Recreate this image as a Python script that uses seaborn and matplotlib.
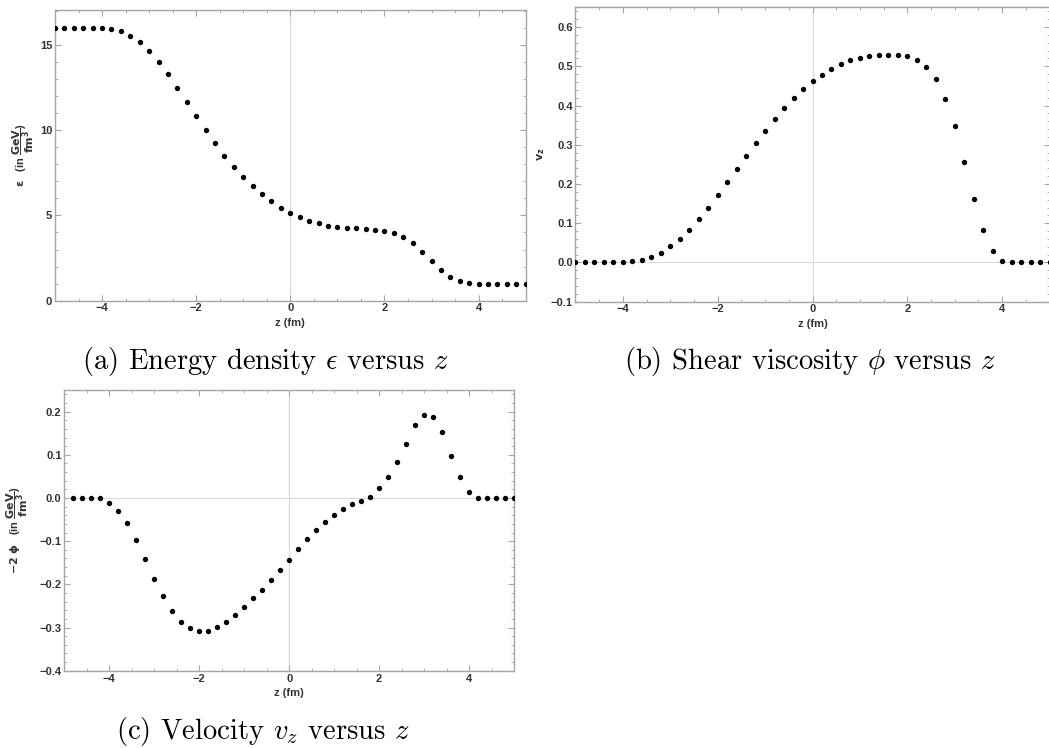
import numpy as np
import matplotlib
matplotlib.use("Agg")
import matplotlib.pyplot as plt
from matplotlib.ticker import MultipleLocator
import seaborn as sns

# Grid along the beam axis (fm)
z_a = [round(-5.0 + 0.2 * i, 1) for i in range(51)]
z_b = [round(-5.0 + 0.2 * i, 1) for i in range(51)]
z_c = [round(-4.8 + 0.2 * i, 1) for i in range(50)]

# Energy density epsilon (GeV/fm^3)
energy_density = [
    16.0, 16.0, 16.0, 16.0, 16.0, 16.0, 15.96, 15.8, 15.55, 15.18,
    14.67, 14.02, 13.27, 12.49, 11.63, 10.82, 10.0, 9.24, 8.51, 7.84,
    7.27, 6.73, 6.25, 5.82, 5.45, 5.14, 4.88, 4.67, 4.53, 4.41,
    4.31, 4.27, 4.25, 4.2, 4.16, 4.1, 3.98, 3.73, 3.37, 2.88,
    2.33, 1.82, 1.41, 1.16, 1.04, 0.98, 0.98, 0.98, 0.98, 0.98, 0.98,
]

# Velocity v_z
velocity = [
    0.0, 0.0, 0.0, 0.0, 0.0, 0.001, 0.003, 0.007, 0.014, 0.025,
    0.041, 0.059, 0.083, 0.110, 0.140, 0.172, 0.205, 0.239, 0.272, 0.304,
    0.336, 0.365, 0.393, 0.419, 0.442, 0.462, 0.479, 0.494, 0.506, 0.515,
    0.521, 0.525, 0.529, 0.529, 0.529, 0.525, 0.516, 0.499, 0.467, 0.417,
    0.347, 0.257, 0.161, 0.082, 0.028, 0.003, 0.0, 0.0, 0.0, 0.0, 0.0,
]

# Shear term -2 phi (GeV/fm^3)
shear = [
    0.0, 0.0, 0.0, 0.0, -0.0115, -0.031, -0.058, -0.098, -0.142, -0.187,
    -0.228, -0.262, -0.287, -0.302, -0.308, -0.307, -0.298, -0.287, -0.271, -0.252,
    -0.232, -0.212, -0.189, -0.166, -0.143, -0.118, -0.096, -0.075, -0.056, -0.039,
    -0.026, -0.013, -0.008, 0.002, 0.022, 0.048, 0.083, 0.126, 0.170, 0.191,
    0.188, 0.152, 0.097, 0.048, 0.014, 0.0, 0.0, 0.0, 0.0, 0.0,
]

captions = [
    r"(a) Energy density $\epsilon$ versus $z$",
    r"(b) Shear viscosity $\phi$ versus $z$",
    r"(c) Velocity $v_z$ versus $z$",
]

sns.set_theme(style="ticks")
plt.rcParams["font.family"] = ["Liberation Sans", "DejaVu Sans"]
plt.rcParams["font.weight"] = "bold"

FRAME = "#a6a6a6"
TXT = "#333333"
MINUS = "\u2212"

fig = plt.figure(figsize=(10.49, 7.48), dpi=100)


def fmt(v, decimals):
    s = f"{v:.{decimals}f}" if decimals else f"{v:g}"
    return s.replace("-", MINUS)


def make_axes(rect, x, y, ylim, ymaj, ymin, ydec, ylabel, label_x):
    ax = fig.add_axes(rect)
    ax.axvline(0, color="#d9d9d9", lw=0.8, zorder=0)
    ax.axhline(0, color="#d9d9d9", lw=0.8, zorder=0)
    sns.scatterplot(x=x, y=y, ax=ax, color="black", s=15, linewidth=0,
                    zorder=3)
    ax.set_xlim(-5, 5)
    ax.set_ylim(*ylim)
    ax.xaxis.set_major_locator(MultipleLocator(2))
    ax.xaxis.set_minor_locator(MultipleLocator(0.5))
    ax.yaxis.set_major_locator(MultipleLocator(ymaj))
    ax.yaxis.set_minor_locator(MultipleLocator(ymin))
    for s in ax.spines.values():
        s.set_color(FRAME)
        s.set_linewidth(1.0)
    ax.tick_params(which="both", direction="in", top=True, right=True,
                   color=FRAME, labelsize=8, labelcolor=TXT, pad=2)
    ax.tick_params(which="major", length=4, width=0.8)
    ax.tick_params(which="minor", length=2.2, width=0.6)
    xt = [t for t in ax.get_xticks() if -5 <= t <= 5]
    ax.set_xticks(xt)
    ax.set_xticklabels([fmt(t, 0) for t in xt], fontweight="bold")
    yt = [t for t in ax.get_yticks() if ylim[0] - 1e-9 <= t <= ylim[1]]
    ax.set_yticks(yt)
    ax.set_yticklabels([fmt(t, ydec) for t in yt], fontweight="bold")
    ax.set_xlabel("z (fm)", fontsize=8, color=TXT, fontweight="bold",
                  labelpad=3)
    ax.set_ylabel(ylabel, fontsize=8, color=TXT, fontweight="bold",
                  math_fontfamily="dejavusans")
    ax.yaxis.set_label_coords(label_x, 0.5)
    return ax


unit = r"(in $\mathbf{\dfrac{GeV}{fm^3}}$)"

ax_a = make_axes([0.0524, 0.598, 0.4487, 0.3882], z_a, energy_density,
                 (0, 17.03), 5, 1, 0, r"$\mathbf{\epsilon}$   " + unit, -0.040)
ax_b = make_axes([0.5486, 0.5967, 0.4519, 0.3944], z_b, velocity,
                 (-0.1, 0.652), 0.1, 0.02, 1, r"$\mathbf{v_z}$", -0.060)
ax_c = make_axes([0.0613, 0.1033, 0.4287, 0.3753], z_c, shear,
                 (-0.4, 0.25), 0.1, 0.02, 1, r"$\mathbf{-2\ \phi}$   " + unit, -0.076)

cap_kw = dict(fontsize=20.6, family="cmr10", math_fontfamily="cm",
              ha="center", va="center", color="black", fontweight="normal")
fig.text(265 / 1049, 1 - 362 / 748, captions[0], **cap_kw)
fig.text(810 / 1049, 1 - 362 / 748, captions[1], **cap_kw)
fig.text(263 / 1049, 1 - 732 / 748, captions[2], **cap_kw)

fig.savefig("out.png", dpi=100)
